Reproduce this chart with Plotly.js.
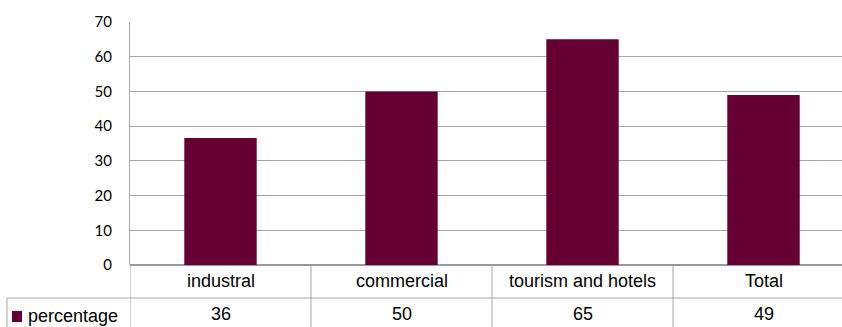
<!DOCTYPE html>
<html>
<head>
<meta charset="utf-8">
<script src="https://cdn.plot.ly/plotly-3.0.1.min.js"></script>
<style>html,body{margin:0;padding:0;background:#fff;}#chart{width:842px;height:327px;}</style>
</head>
<body>
<div id="chart"></div>
<script>
const categories = ["industral", "commercial", "tourism and hotels", "Total"];
const percentage = [36.6, 50, 65, 49];
const tableLabels = ["36", "50", "65", "49"];
const seriesName = "percentage";
const yTicks = [0, 10, 20, 30, 40, 50, 60, 70];

const W = 842, H = 327;
const L = 130, T = 22, B = 62;
const plotH = H - T - B;
const py = (px) => (H - B - px) / plotH; // pixel y -> paper y
const barColor = "#660033";
const lineColor = "#a6a6a6";
const tableFont = {family: "Liberation Sans, Arial, sans-serif", size: 18, color: "#000"};

const xIdx = categories.map((c, i) => i);

const shapes = [];
// table row divider
shapes.push({type: "line", xref: "paper", yref: "paper", x0: (7 - L) / (W - L), x1: 1, y0: py(298), y1: py(298), line: {color: lineColor, width: 1}});
// category boundaries
for (let i = 0; i < categories.length; i++) {
  shapes.push({type: "line", xref: "x", yref: "paper", x0: i - 0.5, x1: i - 0.5, y0: 0, y1: py(H + 5), line: {color: lineColor, width: 1}});
}
// left border of legend cell
shapes.push({type: "line", xref: "paper", yref: "paper", x0: (7 - L) / (W - L), x1: (7 - L) / (W - L), y0: py(298), y1: py(H + 5), line: {color: lineColor, width: 1}});
// legend swatch
shapes.push({type: "rect", xref: "paper", yref: "paper", x0: (12 - L) / (W - L), x1: (22 - L) / (W - L), y0: py(322), y1: py(311), fillcolor: barColor, line: {width: 0}});

const annotations = [];
categories.forEach((c, i) => {
  annotations.push({xref: "x", yref: "paper", x: i, y: py(281), text: c, showarrow: false, xanchor: "center", yanchor: "middle", font: tableFont});
  annotations.push({xref: "x", yref: "paper", x: i, y: py(314), text: tableLabels[i], showarrow: false, xanchor: "center", yanchor: "middle", font: tableFont});
});
annotations.push({xref: "paper", yref: "paper", x: (26 - L) / (W - L), y: py(316), text: seriesName, showarrow: false, xanchor: "left", yanchor: "middle", font: tableFont});

const data = [{
  type: "bar",
  x: xIdx,
  y: percentage,
  name: seriesName,
  marker: {color: barColor, line: {width: 0}},
  width: 0.4,
  hoverinfo: "skip"
}];

const layout = {
  width: W, height: H,
  margin: {l: L, r: 0, t: T, b: B, pad: 0},
  paper_bgcolor: "#fff", plot_bgcolor: "#fff",
  showlegend: false,
  xaxis: {
    range: [-0.5, 3.5 - 12 / 181],
    showticklabels: false, ticks: "", showgrid: false, zeroline: false,
    showline: false, fixedrange: true
  },
  yaxis: {
    range: [0, 70],
    tickvals: yTicks,
    ticktext: yTicks.map(String),
    ticks: "", ticklabelstandoff: 14,
    showgrid: true, gridcolor: lineColor, gridwidth: 1,
    zeroline: true, zerolinecolor: "#999", zerolinewidth: 1.5,
    showline: true, linecolor: lineColor, linewidth: 1,
    tickfont: {family: "Lato, Carlito, sans-serif", size: 15, color: "#000"},
    fixedrange: true
  },
  shapes: shapes,
  annotations: annotations
};

Plotly.newPlot("chart", data, layout, {staticPlot: true, displayModeBar: false});
</script>
</body>
</html>
